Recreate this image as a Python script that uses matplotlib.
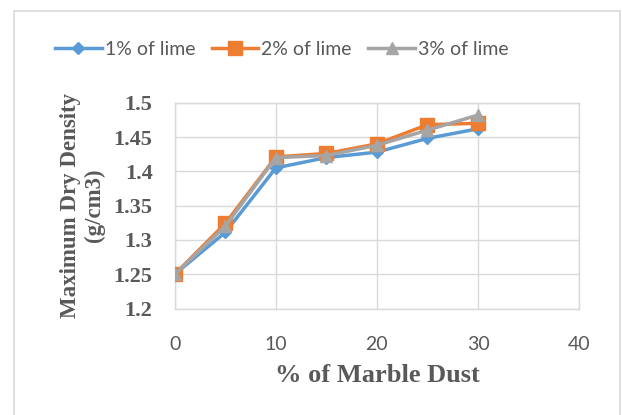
import matplotlib.pyplot as plt
from matplotlib.patches import Rectangle

# Данные с графика
marble_dust = [0, 5, 10, 15, 20, 25, 30]
lime_1 = [1.25, 1.311, 1.405, 1.42, 1.428, 1.448, 1.462]
lime_2 = [1.25, 1.324, 1.421, 1.426, 1.44, 1.468, 1.47]
lime_3 = [1.25, 1.32, 1.42, 1.423, 1.438, 1.46, 1.482]
labels = ['1% of lime', '2% of lime', '3% of lime']

text_color = '#595959'
grid_color = '#D9D9D9'

fig = plt.figure(figsize=(6.22, 4.15), dpi=100)
ax = fig.add_axes([0.281, 0.2566, 0.65, 0.4959])

ax.plot(marble_dust, lime_1, color='#5B9BD5', marker='D', markersize=6.5,
        linewidth=2.5, label=labels[0], zorder=3)
ax.plot(marble_dust, lime_2, color='#ED7D31', marker='s', markersize=10,
        linewidth=2.5, label=labels[1], zorder=4)
ax.plot(marble_dust, lime_3, color='#A5A5A5', marker='^', markersize=9,
        linewidth=2.5, label=labels[2], zorder=5)

ax.set_xlim(0, 40)
ax.set_ylim(1.2, 1.5)
ax.set_xticks([0, 10, 20, 30, 40])
ax.set_yticks([1.2, 1.25, 1.3, 1.35, 1.4, 1.45, 1.5])
ax.set_yticklabels(['1.2', '1.25', '1.3', '1.35', '1.4', '1.45', '1.5'])
ax.grid(True, color=grid_color, linewidth=1)
ax.set_axisbelow(True)
for s in ax.spines.values():
    s.set_color(grid_color)
    s.set_linewidth(1)
ax.tick_params(length=0)
ax.tick_params(axis='x', pad=20, labelsize=14, labelcolor=text_color)
ax.tick_params(axis='y', pad=16, labelsize=16, labelcolor=text_color)
for t in ax.get_xticklabels():
    t.set_family('Lato')
for t in ax.get_yticklabels():
    t.set_family('Liberation Serif')
    t.set_fontweight('bold')

ax.set_xlabel('% of Marble Dust', family='Liberation Serif', fontweight='bold',
              fontsize=19, color=text_color, labelpad=8)
ax.set_ylabel('Maximum Dry Density\n(g/cm3)', family='Liberation Serif',
              fontweight='bold', fontsize=16.5, color=text_color, labelpad=6,
              linespacing=1.2)

fig.legend(loc='center', bbox_to_anchor=(0.453, 0.88), ncol=3, frameon=False,
           handlelength=2.4, columnspacing=0.85, handletextpad=0.15,
           prop={'family': 'Lato', 'size': 14}, labelcolor=text_color)

# рамка диаграммы
fig.patches.append(Rectangle((14 / 622, -0.05), (620 - 14) / 622, 1.05 - 11 / 415,
                             transform=fig.transFigure, fill=False,
                             edgecolor=grid_color, linewidth=1.2))

plt.savefig('out.png')
plt.close()
